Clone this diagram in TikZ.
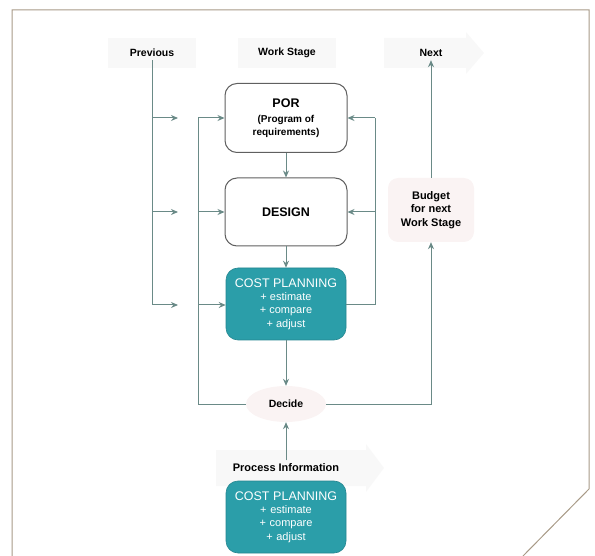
\documentclass[tikz,border=0pt]{standalone}
\usepackage{fontspec}
\setmainfont{Liberation Sans}
\usetikzlibrary{arrows.meta,shapes.geometric}
\definecolor{teal1}{HTML}{2B9EA9}
\definecolor{linkgray}{HTML}{6A8A87}
\definecolor{framebrown}{HTML}{A89A87}
\definecolor{fadepink}{HTML}{FAF3F3}
\definecolor{fadegray}{HTML}{F8F8F8}
\tikzset{
  stagebox/.style={draw=gray!75!black,line width=1pt,rounded corners=12pt,fill=white,
    minimum width=122pt,align=center,font=\fontsize{10}{12.5}\selectfont\bfseries},
  costbox/.style={fill=teal1,draw=teal1!85!black,line width=0.6pt,rounded corners=12pt,text=white,minimum width=120pt,
    align=center,font=\fontsize{11}{13.3}\selectfont},
  label/.style={font=\fontsize{10.5}{13.3}\selectfont\bfseries,align=center},
  link/.style={draw=linkgray,line width=1pt},
  tip/.style={-{Stealth[length=7pt,width=6pt]}}
}
\begin{document}
\begin{tikzpicture}[x=1pt,y=-1pt]
\useasboundingbox (0,0) rectangle (595,556);
% frame
\draw[framebrown,line width=1pt] (12,556)--(12,10)--(589,10)--(589,489)--(523,556);
% faint bands behind the headers
\fill[fadegray] (108,38) rectangle (196,68);
\fill[fadegray] (238,38) rectangle (336,68);
\fill[fadegray] (384,38)--(466,38)--(466,32)--(484,53)--(466,74)--(466,68)--(384,68)--cycle;
\fill[fadegray] (216,450)--(366,450)--(366,444)--(384,468)--(366,492)--(366,486)--(216,486)--cycle;
% nodes
\node [label,name=prev] at (152,53){Previous};
\node [label,name=stage] at (287,53){Work Stage};
\node [label,name=next] at (431,53){Next};
\node [stagebox,minimum height=69pt,name=por] at (286,118){{\fontsize{12.5}{15}\selectfont POR}\\[3pt](Program of\\requirements)};
\node [stagebox,minimum height=68pt,font=\fontsize{12.5}{15}\selectfont\bfseries,name=design] at (286,212){DESIGN};
\node [costbox,minimum height=72pt,name=cost] at (286,304){{\fontsize{12.5}{14}\selectfont COST PLANNING}\\+ estimate\\+ compare\\+ adjust};
\node [label,font=\fontsize{11}{13.3}\selectfont\bfseries,fill=fadepink,rounded corners=10pt,minimum width=86pt,minimum height=64pt,name=budget] at (431,210){Budget\\for next\\Work Stage};
\node [label,ellipse,fill=fadepink,minimum width=80pt,minimum height=36pt,name=decide] at (286,404){Decide};
\node [label,font=\fontsize{11}{13.3}\selectfont\bfseries,name=info] at (286,468){Process Information};
\node [costbox,minimum height=72pt,text width=112pt,name=cost2] at (286,517){{\fontsize{12.5}{14}\selectfont COST PLANNING}\\+ estimate\\+ compare\\+ adjust};
% free ends
\coordinate (pa) at (178,118);
\coordinate (pb) at (178,212);
\coordinate (pc) at (178,305);
\coordinate (ll) at (198,404);
\coordinate (rl) at (375,305);
\coordinate (bl) at (431,404);
% previous stage feeds
\draw[link] (prev.south)--(prev.south |- pc);
\draw[link,tip] (prev.south |- pa)--(pa);
\draw[link,tip] (prev.south |- pb)--(pb);
\draw[link,tip] (prev.south |- pc)--(pc);
% feedback from decide
\draw[link] (decide.west)--(ll)--(ll |- por.west);
\draw[link,tip] (ll |- por.west)--(por.west);
\draw[link,tip] (ll |- design.west)--(design.west);
\draw[link,tip] (ll |- pc)--(cost.west |- pc);
% feedback from cost planning
\draw[link] (cost.east |- rl)--(rl)--(rl |- por.east);
\draw[link,tip] (rl |- por.east)--(por.east);
\draw[link,tip] (rl |- design.east)--(design.east);
% main flow
\draw[link,tip] (por)--(design);
\draw[link,tip] (design)--(cost);
\draw[link,tip] (cost)--(decide);
\draw[link,tip] (info)--(decide);
\draw[link,tip] (decide.east)--(bl)--(budget.south);
\draw[link,tip] (budget)--(next);
\end{tikzpicture}
\end{document}
